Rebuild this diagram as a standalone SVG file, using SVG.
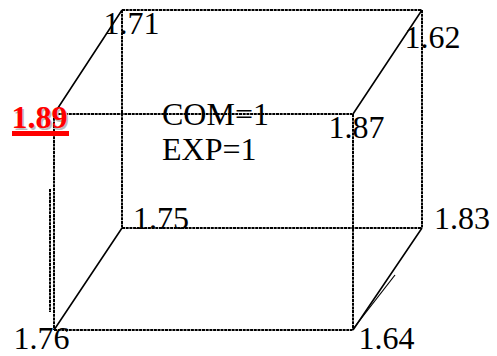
<svg xmlns="http://www.w3.org/2000/svg" width="497" height="356" viewBox="0 0 497 356">
<style>
.d{fill:none;stroke:#000;stroke-width:2;stroke-dasharray:3 .7}
.s{fill:none;stroke:#000;stroke-width:1.600}
.t{font-family:"Liberation Serif","Times New Roman",serif;font-size:32px;fill:#000}
.b{font-family:"Liberation Serif","Times New Roman",serif;font-size:32px;font-weight:bold}
</style>
<rect width="497" height="356" fill="#fff"/>
<g id="connectors">
<path class="d" d="M54 114H352.500M122 10H422M122 228H422M54 330H352.500"/>
<path class="d" d="M54 114V330M353 114V330M122 10V228M422 10V228"/>
<path class="s" d="M54 114L122 10M353 114L422 10M54 330L122 228M353 330L422 228"/>
<path class="d" d="M50 189V312"/>
<path fill="none" stroke="#000" stroke-width="1.200" d="M353 329L395 275"/>
</g>
<g id="n171"><text class="t" x="103.500" y="34">1.71</text></g>
<g id="n162"><text class="t" x="404.500" y="48">1.62</text></g>
<g id="n189">
<text class="b" x="13" y="129.500" fill="#bbb">1.89</text>
<text class="b" x="11.500" y="128" fill="#f00">1.89</text>
<rect x="12" y="131" width="57" height="5" fill="#f00"/>
</g>
<g id="n187"><text class="t" x="328.500" y="138">1.87</text></g>
<g id="n175"><text class="t" x="133" y="229">1.75</text></g>
<g id="n183"><text class="t" x="434" y="229">1.83</text></g>
<g id="n176"><text class="t" x="13.500" y="349">1.76</text></g>
<g id="n164"><text class="t" x="358.500" y="349">1.64</text></g>
<g id="info">
<text class="t" x="162" y="125">COM=1</text>
<text class="t" x="162" y="160">EXP=1</text>
</g>
</svg>
